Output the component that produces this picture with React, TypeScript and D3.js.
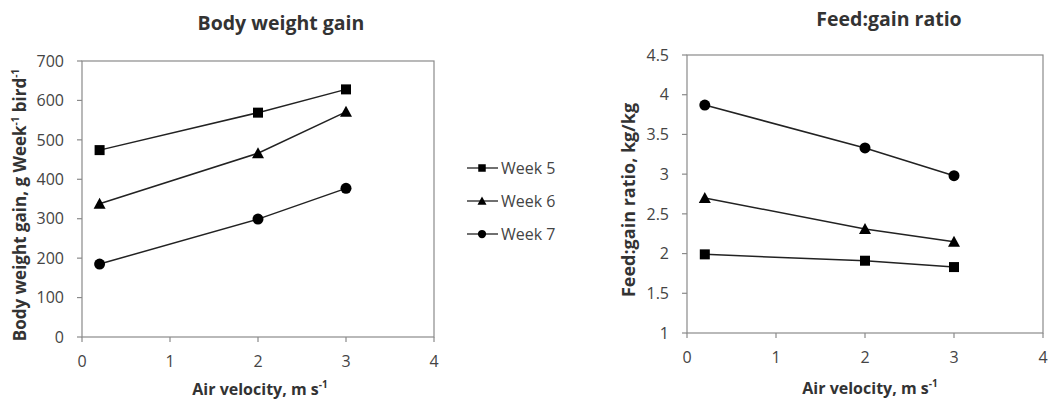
import React from "react";
import * as d3 from "d3";

const velocity = [0.2, 2, 3];
const weekNames = ["Week 5", "Week 6", "Week 7"];
const markerKinds = ["square", "triangle", "circle"];
const bwgWeek5 = [474, 569, 628];
const bwgWeek6 = [338, 466, 571];
const bwgWeek7 = [185, 299, 377];
const fgrWeek5 = [1.99, 1.91, 1.83];
const fgrWeek6 = [2.7, 2.31, 2.15];
const fgrWeek7 = [3.87, 3.33, 2.98];
const xTicks = [0, 1, 2, 3, 4];
const bwgTicks = [0, 100, 200, 300, 400, 500, 600, 700];
const fgrTicks = [1, 1.5, 2, 2.5, 3, 3.5, 4, 4.5];

const FONT = "'Open Sans', Lato, sans-serif";
const TEXT = "#333";
const TICKTEXT = "#444";
const AXIS = "#8a8a8a";
const LINE = "#222";

function Marker({ kind, x, y, s = 1 }: { kind: string; x: number; y: number; s?: number }) {
  if (kind === "square") return <rect x={x - 5 * s} y={y - 5 * s} width={10 * s} height={10 * s} fill="#000" />;
  if (kind === "triangle") {
    const p = `${x},${y - 6 * s} ${x + 6 * s},${y + 5 * s} ${x - 6 * s},${y + 5 * s}`;
    return <polygon points={p} fill="#000" />;
  }
  return <circle cx={x} cy={y} r={5.5 * s} fill="#000" />;
}

function Panel({
  left, right, top, bottom, yDomain, yTicks, series, tickFmt,
}: {
  left: number; right: number; top: number; bottom: number;
  yDomain: [number, number]; yTicks: number[]; series: number[][]; tickFmt: (v: number) => string;
}) {
  const x = d3.scaleLinear().domain([0, 4]).range([left, right]);
  const y = d3.scaleLinear().domain(yDomain).range([bottom, top]);
  const line = d3.line<number>().x((_, i) => x(velocity[i])).y((d) => y(d));
  return (
    <g>
      <rect x={left} y={top} width={right - left} height={bottom - top} fill="none" stroke={AXIS} strokeWidth={1.2} />
      {yTicks.map((t) => (
        <g key={"y" + t}>
          <line x1={left - 5} x2={left} y1={y(t)} y2={y(t)} stroke={AXIS} strokeWidth={1.2} />
          <text x={left - 18} y={y(t)} dy="0.36em" textAnchor="end" fontSize={16} fill={TICKTEXT} fontFamily={FONT}>
            {tickFmt(t)}
          </text>
        </g>
      ))}
      {xTicks.map((t) => (
        <g key={"x" + t}>
          <line x1={x(t)} x2={x(t)} y1={bottom} y2={bottom + 5} stroke={AXIS} strokeWidth={1.2} />
          <text x={x(t)} y={bottom + 30} textAnchor="middle" fontSize={16} fill={TICKTEXT} fontFamily={FONT}>
            {t}
          </text>
        </g>
      ))}
      {series.map((s, i) => (
        <g key={"s" + i}>
          <path d={line(s) || ""} fill="none" stroke={LINE} strokeWidth={1.5} />
          {s.map((v, j) => (
            <Marker key={j} kind={markerKinds[i]} x={x(velocity[j])} y={y(v)} />
          ))}
        </g>
      ))}
    </g>
  );
}

export default function App() {
  const legendY = [168, 201, 234];
  return (
    <svg width={1052} height={404} style={{ position: "absolute", left: 0, top: 0, background: "#fff" }}>
      <Panel left={82} right={434} top={61} bottom={337} yDomain={[0, 700]} yTicks={bwgTicks}
        series={[bwgWeek5, bwgWeek6, bwgWeek7]} tickFmt={(v) => String(v)} />
      <Panel left={687} right={1043} top={55} bottom={333} yDomain={[1, 4.5]} yTicks={fgrTicks}
        series={[fgrWeek5, fgrWeek6, fgrWeek7]} tickFmt={(v) => String(v)} />

      <text x={281} y={30} textAnchor="middle" fontSize={19.5} fontWeight="bold" fill={TEXT} fontFamily={FONT}>
        Body weight gain
      </text>
      <text x={889} y={26} textAnchor="middle" fontSize={19.5} fontWeight="bold" fill={TEXT} fontFamily={FONT}>
        Feed:gain ratio
      </text>

      <text x={260} y={395} textAnchor="middle" fontSize={16} fontWeight="bold" fill={TEXT} fontFamily={FONT}>
        Air velocity, m s<tspan dy={-7} fontSize={10}>-1</tspan>
      </text>
      <text x={870} y={394} textAnchor="middle" fontSize={16} fontWeight="bold" fill={TEXT} fontFamily={FONT}>
        Air velocity, m s<tspan dy={-7} fontSize={10}>-1</tspan>
      </text>

      <text transform="translate(26,205) rotate(-90)" textAnchor="middle" fontSize={17} fontWeight="bold" fill={TEXT} fontFamily={FONT}>
        Body weight gain, g Week<tspan dy={-7} fontSize={10}>-1</tspan>
        <tspan dy={7}> bird</tspan>
        <tspan dy={-7} fontSize={10}>-1</tspan>
      </text>
      <text transform="translate(635,200) rotate(-90)" textAnchor="middle" fontSize={18} fontWeight="bold" fill={TEXT} fontFamily={FONT}>
        Feed:gain ratio, kg/kg
      </text>

      {weekNames.map((w, i) => (
        <g key={w}>
          <line x1={467} x2={498} y1={legendY[i]} y2={legendY[i]} stroke={LINE} strokeWidth={1.3} />
          <Marker kind={markerKinds[i]} x={482} y={legendY[i]} s={0.75} />
          <text x={501} y={legendY[i]} dy="0.36em" fontSize={16} fill={TICKTEXT} fontFamily={FONT}>
            {w}
          </text>
        </g>
      ))}
    </svg>
  );
}
